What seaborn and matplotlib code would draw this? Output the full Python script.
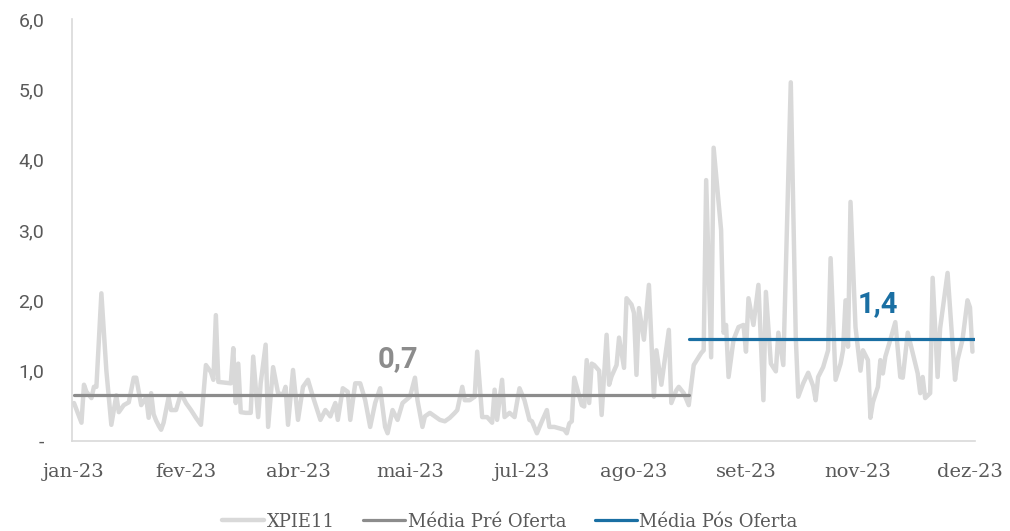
import numpy as np
import pandas as pd
import matplotlib
matplotlib.use("Agg")
import matplotlib.pyplot as plt
import seaborn as sns

# Pregões de 2023 (dia do ano) e volume diário negociado do XPIE11
dia_do_ano = [
    2, 5, 6, 7, 9, 10, 11, 13, 15, 16, 17, 18, 19, 20, 22, 24, 26, 27, 29, 31,
    32, 33, 34, 35, 36, 37, 38, 39, 40, 41, 43, 45, 47, 49, 51, 53, 55, 57, 58, 59,
    60, 65, 66, 67, 68, 69, 71, 73, 74, 76, 77, 79, 80, 82, 84, 86, 87, 88, 90, 92,
    94, 96, 98, 100, 101, 103, 105, 106, 107, 108, 110, 112, 113, 115, 117, 119, 121, 122,
    123, 125, 126, 127, 128, 130, 132, 134, 137, 139, 140, 142, 143, 145, 147, 149, 151,
    153, 155, 156, 158, 159, 161, 163, 164, 166, 168, 170, 171, 172, 174, 175, 176, 177, 178,
    179, 180, 181, 183, 185, 186, 188, 190, 192, 193, 195, 197, 199, 200, 201, 202, 203,
    204, 206, 207, 208, 209, 210, 211, 213, 214, 216, 217, 218, 220, 221, 223, 224, 226, 227, 228, 229,
    231, 233, 235, 236, 238, 241, 242, 244, 245, 247, 249,
    251, 254, 255, 256, 258, 259, 262, 263, 264, 265, 267, 269, 271, 272, 273, 275, 277, 279, 280, 282,
    284, 285, 287, 290, 292, 293, 295, 297, 299, 300, 301, 303, 305, 306, 308, 310, 311, 312, 313, 314,
    316, 318, 319, 321, 322, 323, 325, 326, 327, 328, 330, 332, 334, 335, 337, 339, 341, 342, 343, 344,
    346, 347, 349, 350, 353, 356, 357, 359, 361, 362, 363,
]
xpie11 = [
    0.54, 0.26, 0.80, 0.70, 0.61, 0.77, 0.77, 2.10, 1.00, 0.61, 0.23, 0.44, 0.65, 0.41, 0.51, 0.55, 0.90, 0.90, 0.51, 0.62,
    0.33, 0.68, 0.38, 0.29, 0.22, 0.16, 0.26, 0.44, 0.62, 0.44, 0.44, 0.68, 0.54, 0.44, 0.33, 0.23, 1.08, 0.98, 0.87, 1.79,
    0.84, 0.82, 1.32, 0.54, 1.10, 0.41, 0.40, 0.40, 1.20, 0.34, 0.82, 1.37, 0.20, 1.05, 0.68, 0.66, 0.77, 0.23, 1.01, 0.30,
    0.77, 0.87, 0.63, 0.41, 0.30, 0.44, 0.35, 0.45, 0.54, 0.30, 0.75, 0.70, 0.30, 0.82, 0.82, 0.58, 0.20, 0.37,
    0.54, 0.75, 0.47, 0.20, 0.11, 0.44, 0.30, 0.54, 0.63, 0.90, 0.58, 0.20, 0.35, 0.40, 0.35, 0.30, 0.28,
    0.33, 0.40, 0.44, 0.77, 0.58, 0.58, 0.63, 1.27, 0.34, 0.34, 0.26, 0.73, 0.30, 0.87, 0.34, 0.37, 0.40, 0.37,
    0.34, 0.55, 0.75, 0.58, 0.30, 0.28, 0.11, 0.28, 0.44, 0.20, 0.20, 0.18, 0.16, 0.11, 0.25, 0.28, 0.90,
    0.77, 0.51, 0.49, 1.15, 0.54, 1.10, 1.08, 1.00, 0.37, 1.51, 0.80, 0.92, 1.08, 1.47, 1.04, 2.03, 1.94, 1.82, 0.94, 1.89,
    1.44, 2.22, 0.63, 1.29, 0.80, 1.58, 0.54, 0.72, 0.77, 0.68, 0.51,
    1.08, 1.25, 1.29, 3.71, 1.19, 4.17, 3.00, 1.54, 1.65, 0.91, 1.44, 1.62, 1.65, 1.27, 2.03, 1.65, 2.22, 0.58, 2.12, 1.10,
    0.99, 1.54, 1.08, 5.10, 1.48, 0.63, 0.82, 0.97, 0.78, 0.58, 0.91, 1.05, 1.29, 2.60, 0.87, 1.10, 1.29, 2.00, 1.34, 3.40,
    1.62, 1.00, 1.29, 1.15, 0.33, 0.55, 0.77, 1.15, 0.96, 1.20, 1.44, 1.69, 0.91, 0.90, 1.54, 1.25, 0.96, 0.68, 0.91, 0.61,
    0.68, 2.32, 0.91, 1.60, 2.39, 0.87, 1.15, 1.44, 2.00, 1.90, 1.27,
]
dia_oferta = 249
meses = ["jan", "fev", "mar", "abr", "mai", "jun", "jul", "ago", "set", "out", "nov", "dez"]
y_ticks = [0, 1, 2, 3, 4, 5, 6]

cinza_claro = "#D9D9D9"
cinza_medio = "#8C8C8C"
azul = "#1A6FA3"
texto = "#595959"

inicio = pd.Timestamp("2023-01-01")
datas = inicio + pd.to_timedelta(np.array(dia_do_ano) - 1, unit="D")
df = pd.DataFrame({"data": datas, "volume": xpie11, "dia": dia_do_ano})
data_oferta = inicio + pd.Timedelta(days=dia_oferta - 1)

pre = df[df["dia"] <= dia_oferta]
pos = df[df["dia"] > dia_oferta]
media_pre = pre["volume"].mean()
media_pos = pos["volume"].mean()

sns.set_theme(style="white")
plt.rcParams["font.family"] = ["DejaVu Serif"]

fig = plt.figure(figsize=(10.10, 5.31), dpi=100)
ax = fig.add_axes([0.0713, 0.1695, 0.8940, 0.7947])

sns.lineplot(data=df, x="data", y="volume", color=cinza_claro, linewidth=3.2,
             label="XPIE11", ax=ax, solid_joinstyle="round")

linha_pre = pd.DataFrame({"data": [df["data"].iloc[0], data_oferta], "v": [media_pre] * 2})
linha_pos = pd.DataFrame({"data": [data_oferta, df["data"].iloc[-1] + pd.Timedelta(days=1)],
                          "v": [media_pos] * 2})
sns.lineplot(data=linha_pre, x="data", y="v", color=cinza_medio, linewidth=2.3,
             label="Média Pré Oferta", ax=ax)
sns.lineplot(data=linha_pos, x="data", y="v", color=azul, linewidth=2.3,
             label="Média Pós Oferta", ax=ax)


def fmt(v):
    return f"{v:.1f}".replace(".", ",")


ax.annotate(fmt(media_pre), xy=(inicio + pd.Timedelta(days=131), media_pre),
            xytext=(0, 26), textcoords="offset points", ha="center", va="center",
            fontsize=21, fontweight="bold", color=cinza_medio, family="Roboto")
ax.annotate(fmt(media_pos), xy=(inicio + pd.Timedelta(days=324), media_pos),
            xytext=(0, 25), textcoords="offset points", ha="center", va="center",
            fontsize=21, fontweight="bold", color=azul, family="Roboto")

# eixos
ax.set_ylim(0, 6)
ax.set_yticks(y_ticks)
ax.set_yticklabels(["-" if v == 0 else fmt(v) for v in y_ticks],
                   family="Roboto", fontsize=14, color=texto)
x_ticks = [pd.Timestamp("2023-01-02") + pd.Timedelta(days=45 * k) for k in range(9)]
ax.set_xticks(x_ticks)
ax.set_xticklabels([f"{meses[d.month - 1]}-{d:%y}" for d in x_ticks], fontsize=14, color=texto)
ax.set_xlim(pd.Timestamp("2023-01-02") - pd.Timedelta(days=0.8),
            pd.Timestamp("2023-12-30"))
ax.tick_params(axis="both", length=0)
ax.tick_params(axis="y", pad=20)
ax.tick_params(axis="x", pad=16)
ax.set_xlabel("")
ax.set_ylabel("")
for lado in ["top", "right"]:
    ax.spines[lado].set_visible(False)
for lado in ["left", "bottom"]:
    ax.spines[lado].set_color(cinza_claro)
    ax.spines[lado].set_linewidth(1.2)

handles, labels = ax.get_legend_handles_labels()
ax.get_legend().remove()
fig.legend(handles, labels, loc="lower center", ncol=3, frameon=False,
           bbox_to_anchor=(0.505, -0.03), fontsize=13, handlelength=2.3,
           handletextpad=0.15, columnspacing=1.6, labelcolor=texto)

fig.savefig("out.png", dpi=100)
